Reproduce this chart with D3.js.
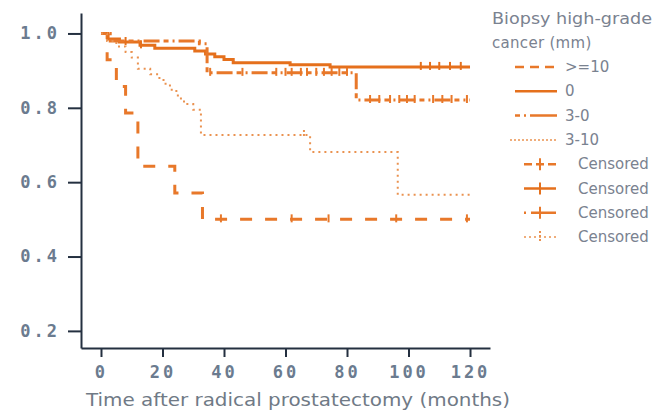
<!DOCTYPE html>
<style>
    body{ margin:0; background:#fff; }
    svg{ font-family:"DejaVu Sans", sans-serif; }
    .tick text{ font-family:"DejaVu Sans Mono", monospace; font-weight:bold; font-size:17px; letter-spacing:3px; fill:#6b7b8f; }
</style>
<svg width="660" height="413"></svg>
<script src="https://d3js.org/d3.v7.min.js"></script>
<script>
    var svg=d3.select("svg");

    var xTicks=[0,20,40,60,80,100,120];
    var yTicks=[0.2,0.4,0.6,0.8,1.0];

    // step curves, [month, survival]
    var g10=[[0,1],[2,0.929],[5,0.857],[8,0.786],[12,0.643],[24,0.571],[33,0.5],[120,0.5]];
    var g0=[[0,1],[2.3,0.985],[6,0.977],[12.7,0.968],[17.5,0.96],[30.5,0.953],[34,0.945],[37,0.937],[40,0.93],[43,0.921],[61.5,0.916],[74.5,0.91],[120,0.91]];
    var g30=[[0,1],[3,0.98],[32,0.972],[34.5,0.894],[83,0.821],[120,0.821]];
    var g310=[[0,1],[2,0.98],[5,0.965],[8,0.95],[10,0.935],[12,0.905],[16,0.89],[19,0.875],[21,0.86],[23,0.845],[25,0.825],[27,0.81],[30,0.795],[32.5,0.727],[68,0.681],[96.5,0.566],[120,0.566]];

    // censored times
    var g10Cens=[39,62,74,96,119];
    var g0Cens=[8,13,104,107,110,113.5,117];
    var g30Cens=[35.5,46,57,60,62,65,67,70,72.5,75,77.5,80,87.5,90.5,94,97,99.5,102,108,111,114,119];
    var g310Cens=[66];

    var names=[">=10","0","3-0","3-10"];

    var series=[
        {name:names[0],pts:g10,cens:g10Cens,color:"#e8782a",width:3,dash:"12,13",key:"9,6",ckey:"8,4"},
        {name:names[1],pts:g0,cens:g0Cens,color:"#e5701c",width:3,dash:null,key:null,ckey:null},
        {name:names[2],pts:g30,cens:g30Cens,color:"#e8782a",width:3,dash:"5,4,2,4,16,4",key:"5,4,2,4,30",ckey:"2,5,30"},
        {name:names[3],pts:g310,cens:g310Cens,color:"#ea9250",width:2,dash:"2,4",key:"2,2",ckey:"2,3"}
    ];

    var x=d3.scaleLinear().domain([-6.5,126.5]).range([81,490]);
    var y=d3.scaleLinear().domain([0.154,1.055]).range([348,13]);

    function survAt(pts,t){
        var s=pts[0][1];
        pts.forEach(function(p){ if(p[0]<=t) s=p[1]; });
        return s;
    }

    var line=d3.line()
        .x(function(d){ return x(d[0]); })
        .y(function(d){ return y(d[1]); })
        .curve(d3.curveStepAfter);

    // axes
    svg.append("g")
        .attr("transform","translate(81,0)")
        .call(d3.axisLeft(y).tickValues(yTicks).tickSize(13).tickSizeOuter(0).tickPadding(8).tickFormat(d3.format(".1f")));
    svg.append("g")
        .attr("transform","translate(0,348)")
        .call(d3.axisBottom(x).tickValues(xTicks).tickSize(9).tickSizeOuter(0).tickPadding(9));
    svg.selectAll(".domain, .tick line").attr("stroke","#243040").attr("stroke-width",2);

    svg.append("text")
        .attr("x",86).attr("y",406)
        .attr("textLength",424).attr("lengthAdjust","spacingAndGlyphs")
        .attr("font-size",18).attr("fill","#707a86")
        .text("Time after radical prostatectomy (months)");

    // curves
    var cell=svg.selectAll("g.curve")
        .data(series)
        .enter().append("g").attr("class","curve");

    cell.append("path")
        .attr("d",function(d){ return line(d.pts); })
        .attr("fill","none")
        .attr("stroke",function(d){ return d.color; })
        .attr("stroke-width",function(d){ return d.width; })
        .attr("stroke-dasharray",function(d){ return d.dash; });

    cell.each(function(s){
        d3.select(this).selectAll("line.cens")
            .data(s.cens)
            .enter().append("line")
            .attr("class","cens")
            .attr("x1",function(t){ return x(t); })
            .attr("x2",function(t){ return x(t); })
            .attr("y1",function(t){ return y(survAt(s.pts,t))-5; })
            .attr("y2",function(t){ return y(survAt(s.pts,t))+3; })
            .attr("stroke",s.color)
            .attr("stroke-width",2)
            .attr("stroke-dasharray",s.dash=="2,4"?"2,2":null);
    });

    // legend
    var lg=svg.append("g").attr("font-size",15).attr("fill","#7a8290");
    lg.append("text").attr("x",492).attr("y",24).attr("textLength",160).attr("lengthAdjust","spacingAndGlyphs").text("Biopsy high-grade");
    lg.append("text").attr("x",492).attr("y",48).attr("letter-spacing",0.3).text("cancer (mm)");

    var rowY=function(i){ return 67+i*24.3; };

    series.forEach(function(s,i){
        lg.append("line")
            .attr("x1",s.dash=="2,4"?510:515).attr("x2",557)
            .attr("y1",rowY(i)).attr("y2",rowY(i))
            .attr("stroke",s.color).attr("stroke-width",s.width==2?1.5:2.5)
            .attr("stroke-dasharray",s.key);
        lg.append("text").attr("x",565).attr("y",rowY(i)+5).text(s.name);
    });

    series.forEach(function(s,i){
        var cy=rowY(i+4);
        lg.append("line")
            .attr("x1",524).attr("x2",556)
            .attr("y1",cy).attr("y2",cy)
            .attr("stroke",s.color).attr("stroke-width",s.width==2?1.5:2.5)
            .attr("stroke-dasharray",s.ckey);
        lg.append("line")
            .attr("x1",540).attr("x2",540)
            .attr("y1",cy-6).attr("y2",cy+6)
            .attr("stroke",s.color).attr("stroke-width",2)
            .attr("stroke-dasharray",s.dash=="2,4"?"2,2":null);
        lg.append("text").attr("x",578).attr("y",cy+5).text("Censored");
    });
</script>
